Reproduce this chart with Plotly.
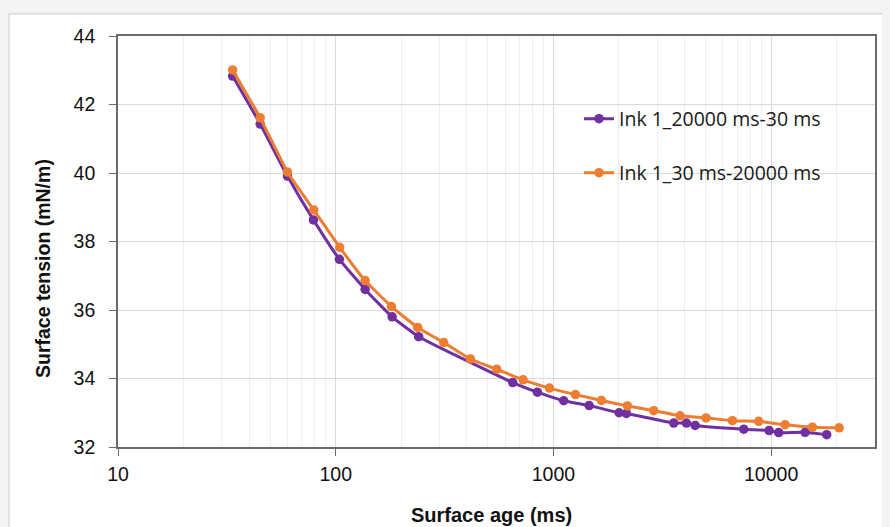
import plotly.graph_objects as go

# ---- data ----
age_desc = [33.6, 45, 60, 79, 104, 136.5, 181.6, 240.5, 650, 844, 1115, 1459,
            2003, 2164, 3569, 4083, 4477, 7484, 9791, 10836, 14328, 18000]
st_desc = [42.83, 41.43, 39.91, 38.63, 37.48, 36.60, 35.80, 35.22, 33.88, 33.60,
           33.35, 33.21, 33.00, 32.98, 32.70, 32.70, 32.63, 32.52, 32.48, 32.42,
           32.43, 32.36]

age_asc = [33.6, 45, 60, 79.3, 104.3, 136.5, 180.3, 238, 313.4, 415.6, 549, 725.9,
           958.5, 1262, 1662, 2187, 2888, 3819, 5028, 6640, 8770, 11593, 15478, 20530]
st_asc = [43.01, 41.61, 40.03, 38.92, 37.83, 36.86, 36.10, 35.49, 35.05, 34.57,
          34.27, 33.96, 33.72, 33.53, 33.36, 33.20, 33.06, 32.91, 32.85, 32.77,
          32.75, 32.65, 32.58, 32.56]

name_desc = "Ink 1_20000 ms-30 ms"
name_asc = "Ink 1_30 ms-20000 ms"

x_tickvals = [10, 100, 1000, 10000]
x_ticktext = ["10", "100", "1000", "10000"]
y_tickvals = [32, 34, 36, 38, 40, 42, 44]
y_ticktext = ["32", "34", "36", "38", "40", "42", "44"]

PURPLE = "#7030a0"
ORANGE = "#ed7d31"

fig = go.Figure()
fig.add_trace(go.Scatter(
    x=age_desc, y=st_desc, name=name_desc, mode="lines+markers",
    line=dict(color=PURPLE, width=3, shape="spline", smoothing=0.4),
    marker=dict(color=PURPLE, size=9.5), legend="legend"))
fig.add_trace(go.Scatter(
    x=age_asc, y=st_asc, name=name_asc, mode="lines+markers",
    line=dict(color=ORANGE, width=3, shape="spline", smoothing=0.4),
    marker=dict(color=ORANGE, size=9.5), legend="legend2"))

W, H = 890, 527
OFF = 8  # page body margin
L, R, T, B = 110, 23, 28, 88
pw, ph = W - L - R, H - T - B


def sx(p):  # screen x -> paper
    return (p - OFF - L) / pw


def sy(p):  # screen y -> paper
    return (H - B - (p - OFF)) / ph


# card + shadow
fig.add_shape(type="rect", xref="paper", yref="paper", layer="below",
              x0=sx(8), x1=sx(W + 40), y0=sy(H + 40), y1=sy(12.5),
              fillcolor="#e3e3e3", line=dict(width=0))
fig.add_shape(type="rect", xref="paper", yref="paper", layer="below",
              x0=sx(10), x1=sx(W + 40), y0=sy(H + 40), y1=sy(15),
              fillcolor="white", line=dict(width=0))

axis_line = "#6a6a6a"
tick_font = dict(family="Liberation Sans, Arial", size=19.5, color="#111111")
fig.update_xaxes(
    type="log", range=[1, 4.4771],
    tickvals=x_tickvals, ticktext=x_ticktext, tickfont=tick_font,
    showline=True, mirror=True, linecolor=axis_line, linewidth=1.6,
    ticks="outside", ticklen=7, tickcolor=axis_line, tickwidth=1.3,
    ticklabelstandoff=2,
    showgrid=True, gridcolor="#d9d9d9", gridwidth=1,
    minor=dict(dtick="D1", showgrid=True, gridcolor="#eeeeee", gridwidth=1, ticks=""),
    zeroline=False)
fig.update_yaxes(
    range=[32, 44], tickvals=y_tickvals, ticktext=y_ticktext, tickfont=tick_font,
    showline=True, mirror=True, linecolor=axis_line, linewidth=1.6,
    ticks="outside", ticklen=7, tickcolor=axis_line, tickwidth=1.3,
    ticklabelstandoff=10,
    showgrid=True, gridcolor="#d9d9d9", gridwidth=1.2, zeroline=False)

legend_font = dict(family="Open Sans, Liberation Sans", size=19.5, color="#1a1a1a")
fig.update_layout(
    width=W, height=H,
    margin=dict(l=L, r=R, t=T, b=B),
    paper_bgcolor="#f4f4f4", plot_bgcolor="white",
    showlegend=True,
    legend=dict(x=sx(579), y=sy(119), xanchor="left", yanchor="middle",
                bgcolor="rgba(0,0,0,0)", font=legend_font, itemwidth=30),
    legend2=dict(x=sx(579), y=sy(173), xanchor="left", yanchor="middle",
                 bgcolor="rgba(0,0,0,0)", font=legend_font, itemwidth=30),
    annotations=[
        dict(text="<b>Surface tension (mN/m)</b>", xref="paper", yref="paper",
             x=sx(43), y=sy(269), textangle=-90, showarrow=False,
             xanchor="center", yanchor="middle",
             font=dict(family="Liberation Sans, Arial", size=19.5, color="#111111")),
        dict(text="<b>Surface age (ms)</b>", xref="paper", yref="paper",
             x=sx(491), y=sy(515), showarrow=False,
             xanchor="center", yanchor="middle",
             font=dict(family="Liberation Sans, Arial", size=20, color="#111111")),
    ],
)

fig.write_html("out.html",
               post_script="document.body.style.backgroundColor='#f4f4f4';")
